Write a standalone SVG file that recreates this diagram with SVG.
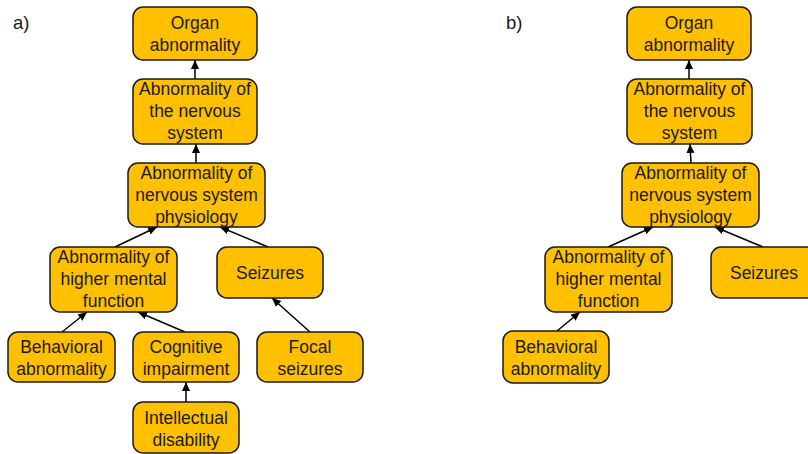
<svg xmlns="http://www.w3.org/2000/svg" width="808" height="454" viewBox="0 0 808 454">
<defs>
<style>
.box{fill:#FFC000;stroke:#1a1a1a;stroke-width:1.5}
text{font-family:"Liberation Sans",Arial,sans-serif;font-size:17.5px;fill:#1a1a1a;text-anchor:middle}
.lbl{text-anchor:start;font-size:18.5px}
.con line{stroke:#000;stroke-width:1.5;marker-end:url(#ah)}
</style>
<marker id="ah" markerUnits="userSpaceOnUse" markerWidth="10" markerHeight="9" refX="9" refY="4" orient="auto">
<path d="M0,0 L9,4 L0,8 z" fill="#000"/>
</marker>
</defs>
<rect width="808" height="454" fill="#fff"/>
<text class="lbl" x="13" y="29">a)</text>
<text class="lbl" x="506" y="29">b)</text>

<g class="con" id="connectors">
<line x1="195" y1="79" x2="195" y2="60"/>
<line x1="196" y1="163" x2="196" y2="144"/>
<line x1="115" y1="247" x2="157" y2="227"/>
<line x1="268" y1="247" x2="220" y2="227"/>
<line x1="62" y1="332" x2="87" y2="312"/>
<line x1="185" y1="332" x2="138" y2="312"/>
<line x1="310" y1="332" x2="272" y2="298"/>
<line x1="186" y1="402" x2="186" y2="382"/>
<line x1="689" y1="79" x2="689" y2="60"/>
<line x1="691" y1="163" x2="690" y2="144"/>
<line x1="608" y1="247" x2="653" y2="227"/>
<line x1="763" y1="247" x2="715" y2="227"/>
<line x1="557" y1="331" x2="580" y2="312"/>
</g>

<g id="a-organ"><rect class="box" x="133" y="7" width="124" height="53" rx="10"/>
<text x="195" y="29">Organ</text><text x="195" y="51">abnormality</text></g>
<g id="a-nervous"><rect class="box" x="133" y="79" width="124" height="65" rx="10"/>
<text x="195" y="95">Abnormality of</text><text x="195" y="117">the nervous</text><text x="195" y="139">system</text></g>
<g id="a-physiology"><rect class="box" x="128" y="163" width="137" height="64" rx="10"/>
<text x="196.5" y="179">Abnormality of</text><text x="196.5" y="201">nervous system</text><text x="196.5" y="223">physiology</text></g>
<g id="a-higher"><rect class="box" x="50" y="247" width="127" height="65" rx="10"/>
<text x="113.5" y="263">Abnormality of</text><text x="113.5" y="285">higher mental</text><text x="113.5" y="307">function</text></g>
<g id="a-seizures"><rect class="box" x="217" y="247" width="106" height="51" rx="10"/>
<text x="270" y="279">Seizures</text></g>
<g id="a-behavioral"><rect class="box" x="8" y="332" width="107" height="50" rx="10"/>
<text x="61.5" y="353">Behavioral</text><text x="61.5" y="375">abnormality</text></g>
<g id="a-cognitive"><rect class="box" x="133" y="332" width="106" height="50" rx="10"/>
<text x="186" y="353">Cognitive</text><text x="186" y="375">impairment</text></g>
<g id="a-focal"><rect class="box" x="257" y="332" width="106" height="50" rx="10"/>
<text x="310" y="353">Focal</text><text x="310" y="375">seizures</text></g>
<g id="a-intellectual"><rect class="box" x="133" y="402" width="106" height="51" rx="10"/>
<text x="186" y="424">Intellectual</text><text x="186" y="446">disability</text></g>

<g id="b-organ"><rect class="box" x="627" y="7" width="124" height="53" rx="10"/>
<text x="689" y="29">Organ</text><text x="689" y="51">abnormality</text></g>
<g id="b-nervous"><rect class="box" x="627" y="79" width="125" height="65" rx="10"/>
<text x="689.5" y="95">Abnormality of</text><text x="689.5" y="117">the nervous</text><text x="689.5" y="139">system</text></g>
<g id="b-physiology"><rect class="box" x="622" y="163" width="137" height="64" rx="10"/>
<text x="690.5" y="179">Abnormality of</text><text x="690.5" y="201">nervous system</text><text x="690.5" y="223">physiology</text></g>
<g id="b-higher"><rect class="box" x="545" y="247" width="127" height="65" rx="10"/>
<text x="608.5" y="263">Abnormality of</text><text x="608.5" y="285">higher mental</text><text x="608.5" y="307">function</text></g>
<g id="b-seizures"><rect class="box" x="711" y="247" width="106" height="51" rx="10"/>
<text x="764" y="279">Seizures</text></g>
<g id="b-behavioral"><rect class="box" x="503" y="331" width="106" height="52" rx="10"/>
<text x="556" y="353">Behavioral</text><text x="556" y="375">abnormality</text></g>
</svg>
